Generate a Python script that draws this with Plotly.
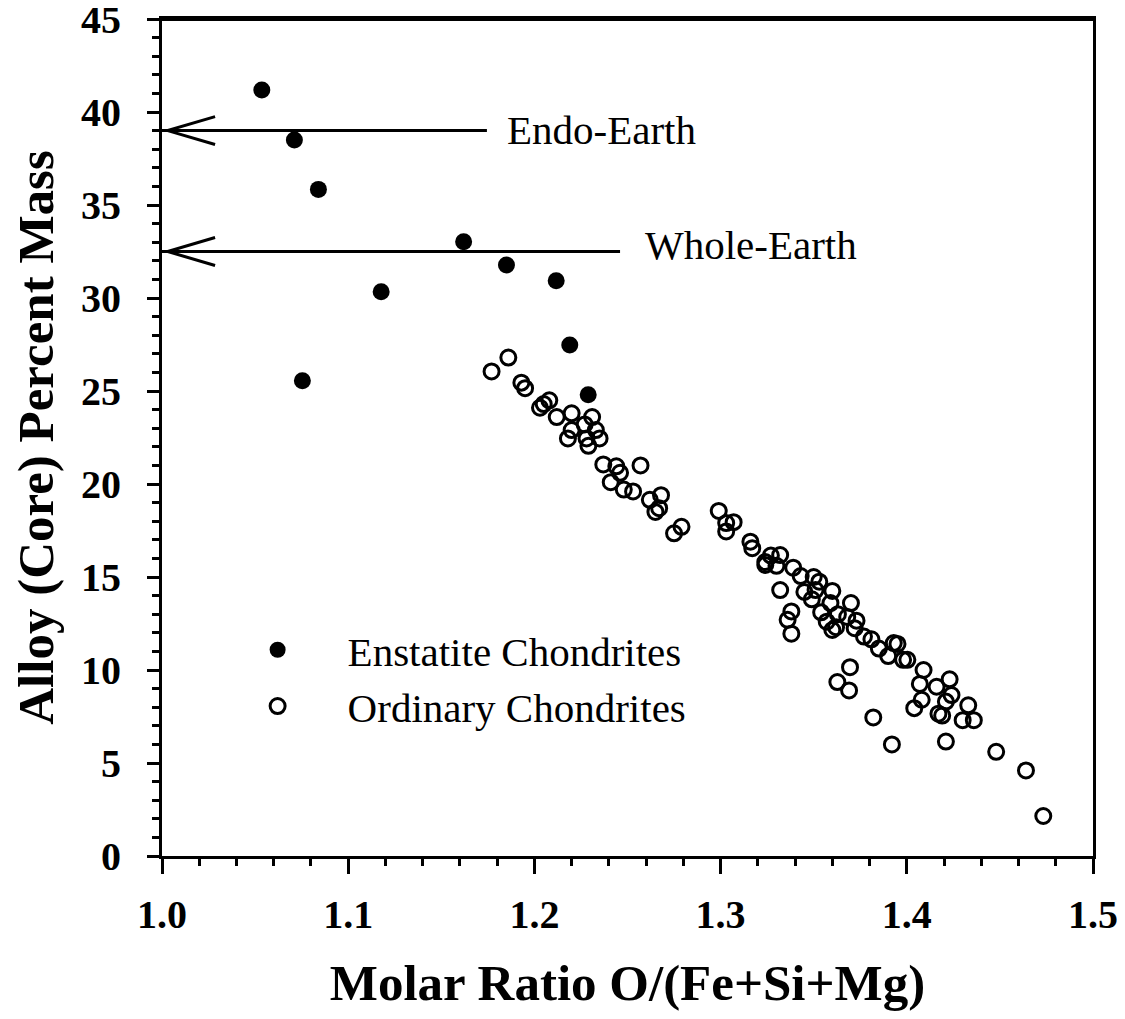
import plotly.graph_objects as go

# ---------------- data ----------------
ens_x = [1.0536, 1.0711, 1.0840, 1.0754, 1.1177, 1.1620, 1.1850, 1.2117, 1.2190, 1.2289]
ens_y = [41.18, 38.50, 35.84, 25.55, 30.34, 33.03, 31.77, 30.93, 27.47, 24.80]

ord_x = [1.186, 1.177, 1.193, 1.195, 1.208, 1.203, 1.205, 1.212, 1.220, 1.231,
         1.227, 1.220, 1.218, 1.228, 1.235, 1.229, 1.233, 1.237, 1.244, 1.246,
         1.241, 1.248, 1.253, 1.257, 1.262, 1.268, 1.265, 1.267, 1.279, 1.275,
         1.299, 1.303, 1.307, 1.303, 1.316, 1.317, 1.327, 1.332, 1.324, 1.330,
         1.324, 1.339, 1.343, 1.350, 1.353, 1.332, 1.345, 1.351, 1.360, 1.349,
         1.359, 1.370, 1.338, 1.354, 1.363, 1.368, 1.336, 1.373, 1.357, 1.362,
         1.372, 1.338, 1.360, 1.377, 1.381, 1.385, 1.393, 1.390, 1.395, 1.398,
         1.3695, 1.3627, 1.369,
         1.4003, 1.409, 1.423, 1.407, 1.416, 1.424, 1.421, 1.408, 1.404, 1.417,
         1.419, 1.433, 1.430, 1.436, 1.382, 1.392, 1.421, 1.448, 1.464, 1.4733]
ord_y = [26.80, 26.05, 25.45, 25.15, 24.50, 24.10, 24.30, 23.60, 23.80, 23.60,
         23.20, 22.90, 22.45, 22.45, 22.45, 22.05, 22.90, 21.05, 20.95, 20.60,
         20.10, 19.70, 19.60, 21.00, 19.15, 19.40, 18.50, 18.70, 17.70, 17.35,
         18.55, 17.90, 17.95, 17.45, 16.90, 16.55, 16.15, 16.18, 15.80, 15.60,
         15.65, 15.50, 15.05, 15.00, 14.75, 14.30, 14.20, 14.30, 14.25, 13.80,
         13.60, 13.60, 13.15, 13.10, 13.00, 12.85, 12.70, 12.65, 12.60, 12.30,
         12.25, 11.95, 12.15, 11.80, 11.65, 11.15, 11.45, 10.75, 11.40, 10.55,
         10.15, 9.35, 8.90,
         10.55, 10.00, 9.50, 9.25, 9.10, 8.65, 8.30, 8.40, 7.95, 7.65,
         7.55, 8.10, 7.30, 7.30, 7.45, 6.00, 6.15, 5.60, 4.60, 2.15]

series_names = ["Enstatite Chondrites", "Ordinary Chondrites"]

ref_labels = ["Endo-Earth", "Whole-Earth"]
ref_y = [39.0, 32.5]
ref_line_end_x = [1.1745, 1.246]
ref_label_x = [1.184, 1.2583]
ref_label_y = [39.05, 32.85]

x_range = [1.0, 1.5]
y_range = [0, 45]
x_tickvals = [1.0, 1.1, 1.2, 1.3, 1.4, 1.5]
x_ticktext = ["1.0", "1.1", "1.2", "1.3", "1.4", "1.5"]
y_tickvals = [0, 5, 10, 15, 20, 25, 30, 35, 40, 45]
x_title = "Molar Ratio O/(Fe+Si+Mg)"
y_title = "Alloy (Core) Percent Mass"

# ---------------- style ----------------
FONT = "Liberation Serif, Times New Roman, serif"
BLACK = "#000000"

fig = go.Figure()
fig.add_trace(go.Scatter(
    x=ens_x, y=ens_y, mode="markers", name=series_names[0],
    marker=dict(symbol="circle", size=17, color=BLACK),
    legendgroup="a"))
fig.add_trace(go.Scatter(
    x=ord_x, y=ord_y, mode="markers", name=series_names[1],
    marker=dict(symbol="circle-open", size=15, color=BLACK,
                line=dict(width=3, color=BLACK)),
    legendgroup="b"))

# top frame line of the plot area
shapes = [dict(type="line", xref="paper", yref="paper", x0=0.0, x1=1.0, y0=1.0, y1=1.0,
               line=dict(color=BLACK, width=4), layer="above")]
annotations = []
head_dx = 0.0285
head_dy = 0.75
for lab, yv, xe, xl, yl in zip(ref_labels, ref_y, ref_line_end_x, ref_label_x, ref_label_y):
    shapes.append(dict(type="line", xref="x", yref="y", x0=x_range[0], x1=xe,
                       y0=yv, y1=yv, line=dict(color=BLACK, width=3)))
    shapes.append(dict(type="path", xref="x", yref="y",
                       path=f"M {x_range[0]+head_dx},{yv+head_dy} L {x_range[0]+0.003},{yv} L {x_range[0]+head_dx},{yv-head_dy}",
                       line=dict(color=BLACK, width=3)))
    annotations.append(dict(x=xl, y=yl, xref="x", yref="y", text=lab,
                            showarrow=False, xanchor="left", yanchor="middle",
                            font=dict(family=FONT, size=41, color=BLACK)))

tickfont = dict(family=FONT, size=40, color=BLACK, weight="bold")
titlefont = dict(family=FONT, size=51, color=BLACK, weight="bold")

# page body adds an 8px offset; margins compensate so the plot area lands at 162..1093 x 19..856
fig.update_layout(
    width=1125, height=1019,
    margin=dict(l=154, r=40, t=11, b=171),
    paper_bgcolor="white", plot_bgcolor="white",
    showlegend=True,
    legend=dict(x=0.049, y=0.286, xanchor="left", yanchor="top",
                font=dict(family=FONT, size=41, color=BLACK),
                bgcolor="rgba(0,0,0,0)", itemwidth=130,
                traceorder="grouped", tracegroupgap=0),
    shapes=shapes, annotations=annotations,
    xaxis=dict(range=x_range, tickmode="array", tickvals=x_tickvals, ticktext=x_ticktext,
               showline=True, linewidth=3, linecolor=BLACK, mirror=True,
               ticks="outside", ticklen=15, tickwidth=3, tickcolor=BLACK,
               ticklabelstandoff=6, automargin=False, ticklabeloverflow="allow",
               minor=dict(dtick=0.02, tick0=1.0, ticks="outside", ticklen=7, tickwidth=3, tickcolor=BLACK),
               showgrid=False, zeroline=False, tickfont=tickfont,
               title=dict(text=x_title, font=titlefont, standoff=29)),
    yaxis=dict(range=y_range, tickmode="array", tickvals=y_tickvals,
               showline=True, linewidth=3, linecolor=BLACK, mirror=True,
               ticks="outside", ticklen=12, tickwidth=3, tickcolor=BLACK,
               ticklabelstandoff=18, automargin=False, ticklabeloverflow="allow",
               minor=dict(dtick=1, tick0=0, ticks="outside", ticklen=7, tickwidth=3, tickcolor=BLACK),
               showgrid=False, zeroline=False, tickfont=tickfont,
               title=dict(text=y_title, font=titlefont, standoff=25)),
)

fig.write_html("out.html")
